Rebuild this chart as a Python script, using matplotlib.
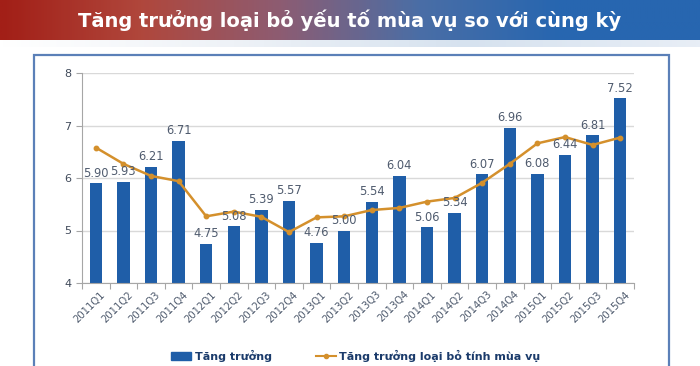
import numpy as np
import matplotlib
matplotlib.use('Agg')
import matplotlib.pyplot as plt
from matplotlib.colors import LinearSegmentedColormap
from matplotlib.lines import Line2D
from matplotlib.patches import Patch, Rectangle

quarters = ['2011Q1', '2011Q2', '2011Q3', '2011Q4', '2012Q1', '2012Q2', '2012Q3', '2012Q4',
            '2013Q1', '2013Q2', '2013Q3', '2013Q4', '2014Q1', '2014Q2', '2014Q3', '2014Q4',
            '2015Q1', '2015Q2', '2015Q3', '2015Q4']
growth = [5.90, 5.93, 6.21, 6.71, 4.75, 5.08, 5.39, 5.57, 4.76, 5.00,
          5.54, 6.04, 5.06, 5.34, 6.07, 6.96, 6.08, 6.44, 6.81, 7.52]
growth_sa = [6.58, 6.27, 6.04, 5.94, 5.27, 5.36, 5.26, 4.97, 5.25, 5.27,
             5.39, 5.43, 5.55, 5.62, 5.91, 6.27, 6.66, 6.78, 6.63, 6.77]
title = 'Tăng trưởng loại bỏ yếu tố mùa vụ so với cùng kỳ'
legend_labels = ['Tăng trưởng', 'Tăng trưởng loại bỏ tính mùa vụ']

bar_col = '#1f5ea8'
line_col = '#d4902c'
lab_col = '#4f5b6e'

fig = plt.figure(figsize=(7, 3.66), dpi=100)
fig.patch.set_facecolor('white')

# title banner with gradient
bax = fig.add_axes([0, 1 - 40/366, 1, 40/366])
cm = LinearSegmentedColormap.from_list('ban', ['#a21f17', '#b0473c', '#8d5c72', '#4a6ea6', '#2766b0', '#2766b0'])
bax.imshow(np.linspace(0, 1, 300)[None, :], aspect='auto', cmap=cm, extent=[0, 1, 0, 1])
bax.set_xlim(0, 1); bax.set_ylim(0, 1); bax.axis('off')
bax.text(0.5, 0.5, title, color='white', fontsize=14, fontweight='bold',
         ha='center', va='center')

# pale strip under banner
sax = fig.add_axes([0, 1 - 47/366, 1, 7/366])
cm2 = LinearSegmentedColormap.from_list('strip', ['#ffffff', '#eef2f7', '#d6e2ef', '#e8eef6'])
sax.imshow(np.linspace(0, 1, 300)[None, :], aspect='auto', cmap=cm2, extent=[0, 1, 0, 1])
sax.axis('off')

# chart box border
fig.patches.append(Rectangle((34/700, -0.05), (669-34)/700, 1.05 - 55/366,
                             transform=fig.transFigure, fill=False,
                             edgecolor='#5b80b8', linewidth=1.6))

ax = fig.add_axes([82/700, 83/366, (634-82)/700, 210/366])
x = np.arange(len(quarters))
ax.bar(x, growth, width=0.45, color=bar_col, zorder=2)
ax.plot(x, growth_sa, color=line_col, linewidth=1.8, marker='o', markersize=3.2, zorder=3)
for xi, v in zip(x, growth):
    ax.text(xi, v + 0.07, f'{v:.2f}', ha='center', va='bottom', fontsize=8.3, color=lab_col, zorder=4)

ax.set_ylim(4, 8)
ax.set_xlim(-0.5, len(quarters) - 0.5)
ax.set_yticks([4, 5, 6, 7, 8])
ax.yaxis.grid(True, color='#d9d9d9', linewidth=1)
ax.set_axisbelow(True)
for s in ['top', 'right']:
    ax.spines[s].set_visible(False)
ax.spines['left'].set_color('#a6a6a6')
ax.spines['bottom'].set_color('#a6a6a6')
ax.tick_params(axis='y', colors='#a6a6a6', labelcolor='#404a5a', labelsize=8, length=4)
ax.set_xticks(np.arange(len(quarters) + 1) - 0.5)
ax.set_xticklabels([])
ax.tick_params(axis='x', colors='#a6a6a6', length=4)
for xi, q in zip(x, quarters):
    ax.text(xi + 0.15, 3.88, q, rotation=45, ha='right', va='top', fontsize=7.2,
            color='#4f5b6e', rotation_mode='anchor')

handles = [Patch(color=bar_col), Line2D([0], [0], color=line_col, marker='o', markersize=3)]
leg = fig.legend(handles, legend_labels, loc='center', bbox_to_anchor=(356/700, 1 - 356/366),
                 ncol=2, frameon=False, fontsize=8, handlelength=1.8, columnspacing=4,
                 handletextpad=0.3)
for t in leg.get_texts():
    t.set_color('#1b3b6b')
    t.set_fontweight('bold')

fig.savefig('out.png', dpi=100)
